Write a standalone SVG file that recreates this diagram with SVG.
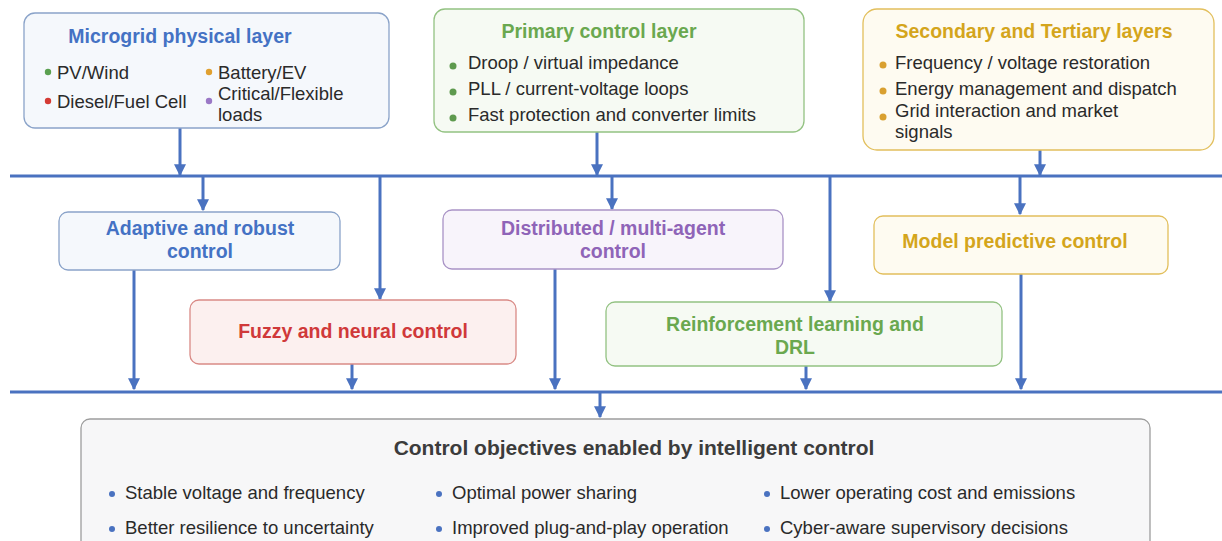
<svg xmlns="http://www.w3.org/2000/svg" width="1222" height="541" viewBox="0 0 1222 541">
  <defs>
    <marker id="arr" viewBox="0 0 10 10" refX="9" refY="5" markerWidth="4" markerHeight="4" orient="auto" markerUnits="strokeWidth">
      <path d="M0,0 L10,5 L0,10 z" fill="#4a72c0"/>
    </marker>
    <style>
      text { font-family: "Liberation Sans", Arial, sans-serif; }
      .t { font-weight: bold; font-size: 19.5px; text-anchor: middle; }
      .b { font-size: 18.5px; fill: #2a2a2a; }
      .bus { stroke: #4a72c0; stroke-width: 3; fill: none; }
      .ln { stroke: #4a72c0; stroke-width: 3; fill: none; marker-end: url(#arr); }
      .blue { fill: #f5f8fc; stroke: #8aa3c9; stroke-width: 1.3; }
      .green { fill: #f6faf3; stroke: #93c282; stroke-width: 1.3; }
      .gold { fill: #fefbf1; stroke: #e2bf5c; stroke-width: 1.3; }
      .red { fill: #fcf0ef; stroke: #d98a86; stroke-width: 1.3; }
      .purple { fill: #f8f4fb; stroke: #a993c6; stroke-width: 1.3; }
      .grey { fill: #f7f7f8; stroke: #9d9d9d; stroke-width: 1.3; }
    </style>
  </defs>
  <rect width="1222" height="541" fill="#ffffff"/>

  <!-- connectors -->
  <g id="connectors">
    <line class="bus" x1="10" y1="176" x2="1222" y2="176"/>
    <line class="bus" x1="10" y1="392" x2="1222" y2="392"/>
    <line class="ln" x1="180" y1="128" x2="180" y2="175"/>
    <line class="ln" x1="597" y1="132" x2="597" y2="175"/>
    <line class="ln" x1="1040" y1="150" x2="1040" y2="175"/>
    <line class="ln" x1="203" y1="176" x2="203" y2="210"/>
    <line class="ln" x1="380" y1="176" x2="380" y2="299"/>
    <line class="ln" x1="612" y1="176" x2="612" y2="209"/>
    <line class="ln" x1="830" y1="176" x2="830" y2="301"/>
    <line class="ln" x1="1020" y1="176" x2="1020" y2="214"/>
    <line class="ln" x1="134" y1="270" x2="134" y2="389"/>
    <line class="ln" x1="352" y1="364" x2="352" y2="389"/>
    <line class="ln" x1="555" y1="269" x2="555" y2="389"/>
    <line class="ln" x1="806" y1="366" x2="806" y2="389"/>
    <line class="ln" x1="1021" y1="274" x2="1021" y2="389"/>
    <line class="ln" x1="600" y1="392" x2="600" y2="417"/>
  </g>

  <!-- top layer -->
  <g id="physical">
    <rect class="blue" x="24" y="13" width="365" height="115" rx="11"/>
    <text class="t" x="180" y="43" fill="#4472c4">Microgrid physical layer</text>
    <circle cx="48" cy="72" r="3.2" fill="#5aa050"/>
    <text class="b" x="57" y="79">PV/Wind</text>
    <circle cx="209" cy="72" r="3.2" fill="#e0a030"/>
    <text class="b" x="218" y="79">Battery/EV</text>
    <circle cx="48" cy="101" r="3.2" fill="#d43a34"/>
    <text class="b" x="57" y="108">Diesel/Fuel Cell</text>
    <circle cx="209" cy="101" r="3.2" fill="#9a78c6"/>
    <text class="b" x="218" y="100">Critical/Flexible</text>
    <text class="b" x="218" y="121">loads</text>
  </g>

  <g id="primary">
    <rect class="green" x="434" y="9" width="370" height="123" rx="11"/>
    <text class="t" x="599" y="38" fill="#6aa84f">Primary control layer</text>
    <circle cx="453" cy="66" r="3.5" fill="#5e9a4e"/>
    <text class="b" x="468" y="69">Droop / virtual impedance</text>
    <circle cx="453" cy="92" r="3.5" fill="#5e9a4e"/>
    <text class="b" x="468" y="95">PLL / current-voltage loops</text>
    <circle cx="453" cy="118" r="3.5" fill="#5e9a4e"/>
    <text class="b" x="468" y="121">Fast protection and converter limits</text>
  </g>

  <g id="supervisory">
    <rect class="gold" x="863" y="9" width="351" height="141" rx="14"/>
    <text class="t" x="1034" y="38" fill="#d4a51c">Secondary and Tertiary layers</text>
    <circle cx="883" cy="65" r="3.5" fill="#d9a030"/>
    <text class="b" x="895" y="69">Frequency / voltage restoration</text>
    <circle cx="883" cy="91" r="3.5" fill="#d9a030"/>
    <text class="b" x="895" y="95">Energy management and dispatch</text>
    <circle cx="883" cy="117" r="3.5" fill="#d9a030"/>
    <text class="b" x="895" y="117">Grid interaction and market</text>
    <text class="b" x="895" y="138">signals</text>
  </g>

  <!-- control methods -->
  <g id="adaptive">
    <rect class="blue" x="59" y="212" width="281" height="58" rx="9"/>
    <text class="t" x="200" y="235" fill="#4472c4">Adaptive and robust</text>
    <text class="t" x="200" y="258" fill="#4472c4">control</text>
  </g>

  <g id="distributed">
    <rect class="purple" x="443" y="210" width="340" height="59" rx="9"/>
    <text class="t" x="613" y="235" fill="#8f64b8">Distributed / multi-agent</text>
    <text class="t" x="613" y="258" fill="#8f64b8">control</text>
  </g>

  <g id="mpc">
    <rect class="gold" x="874" y="216" width="294" height="58" rx="9"/>
    <text class="t" x="1015" y="248" fill="#d4a51c">Model predictive control</text>
  </g>

  <g id="fuzzy">
    <rect class="red" x="190" y="300" width="326" height="64" rx="9"/>
    <text class="t" x="353" y="338" fill="#d0393a">Fuzzy and neural control</text>
  </g>

  <g id="rl">
    <rect class="green" x="606" y="302" width="396" height="64" rx="9"/>
    <text class="t" x="795" y="331" fill="#6aa84f">Reinforcement learning and</text>
    <text class="t" x="795" y="354" fill="#6aa84f">DRL</text>
  </g>

  <!-- objectives -->
  <g id="objectives">
    <rect class="grey" x="81" y="419" width="1069" height="140" rx="9"/>
    <text class="t" x="634" y="455" fill="#3c3c3c" style="font-size:21px">Control objectives enabled by intelligent control</text>
    <circle cx="112" cy="494" r="3" fill="#4a72c0"/>
    <text class="b" x="125" y="499">Stable voltage and frequency</text>
    <circle cx="112" cy="529" r="3" fill="#4a72c0"/>
    <text class="b" x="125" y="534">Better resilience to uncertainty</text>
    <circle cx="439" cy="494" r="3" fill="#4a72c0"/>
    <text class="b" x="452" y="499">Optimal power sharing</text>
    <circle cx="439" cy="529" r="3" fill="#4a72c0"/>
    <text class="b" x="452" y="534">Improved plug-and-play operation</text>
    <circle cx="767" cy="494" r="3" fill="#4a72c0"/>
    <text class="b" x="780" y="499">Lower operating cost and emissions</text>
    <circle cx="767" cy="529" r="3" fill="#4a72c0"/>
    <text class="b" x="780" y="534">Cyber-aware supervisory decisions</text>
  </g>
</svg>
